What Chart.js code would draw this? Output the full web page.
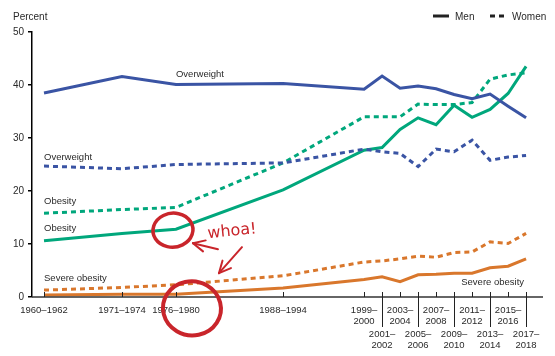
<!DOCTYPE html>
<html><head><meta charset="utf-8">
<script src="https://cdn.jsdelivr.net/npm/chart.js@4/dist/chart.umd.min.js"></script>
<style>html,body{margin:0;padding:0;background:#fff;}#wrap{width:555px;height:356px;position:relative}</style>
</head><body><div id="wrap"><canvas id="c" width="555" height="356"></canvas></div>
<script>
const periods = ['1960–1962','1971–1974','1976–1980','1988–1994','1999–2000','2001–2002','2003–2004','2005–2006','2007–2008','2009–2010','2011–2012','2013–2014','2015–2016','2017–2018'];
const periodPos = [0,4.33,7.33,13.28,17.78,18.78,19.78,20.78,21.78,22.78,23.78,24.78,25.78,26.78];
const menOverweight   = [38.5,41.6,40.1,40.3,39.2,41.7,39.4,39.8,39.3,38.2,37.4,38.3,36.0,33.8];
const menObesity      = [10.6,12.0,12.8,20.2,27.7,28.2,31.6,33.8,32.5,36.2,33.9,35.4,38.4,43.5];
const menSevere       = [0.4,0.5,0.5,1.7,3.3,3.8,2.9,4.2,4.3,4.5,4.5,5.5,5.8,7.2];
const womenOverweight = [24.7,24.2,25.0,25.3,27.9,27.4,27.1,24.6,27.9,27.4,29.6,25.8,26.4,26.7];
const womenObesity    = [15.8,16.5,16.9,25.3,34.0,34.0,34.0,36.4,36.3,36.3,36.7,41.1,41.9,42.3];
const womenSevere     = [1.3,1.8,2.3,4.0,6.6,6.8,7.2,7.7,7.5,8.4,8.5,10.4,10.1,12.0];
const yTicks = [0,10,20,30,40,50];

const BLUE = '#3a54a4', GREEN = '#00a77c', ORANGE = '#d9772c', RED = '#c9252b', TXT = '#2a2a2a';
const FAM = '"Liberation Sans", Arial, sans-serif';
const DASH = [5,4];
const mk = arr => arr.map((v,i)=>({x: periodPos[i], y: v}));

const datasets = [
  {label:'Men overweight', data: mk(menOverweight), borderColor: BLUE},
  {label:'Women overweight', data: mk(womenOverweight), borderColor: BLUE, borderDash: DASH},
  {label:'Men obesity', data: mk(menObesity), borderColor: GREEN},
  {label:'Women obesity', data: mk(womenObesity), borderColor: GREEN, borderDash: DASH},
  {label:'Men severe obesity', data: mk(menSevere), borderColor: ORANGE},
  {label:'Women severe obesity', data: mk(womenSevere), borderColor: ORANGE, borderDash: DASH}
];

const overlay = {
  id:'overlay',
  afterDraw(chart){
    const ctx = chart.ctx, xs = chart.scales.x, ys = chart.scales.y, a = chart.chartArea;
    const px = i => xs.getPixelForValue(periodPos[i]);
    ctx.save();
    // x axis line
    ctx.strokeStyle = '#333'; ctx.lineWidth = 1.5;
    ctx.beginPath(); ctx.moveTo(a.left, a.bottom); ctx.lineTo(a.right, a.bottom); ctx.stroke();
    // ticks + leaders
    ctx.lineWidth = 1; ctx.strokeStyle = '#222';
    periods.forEach((p,i)=>{
      const x = Math.round(px(i))+0.5;
      ctx.beginPath(); ctx.moveTo(x, a.bottom-5); ctx.lineTo(x, a.bottom); ctx.stroke();
      if (i>=4 && (i-4)%2===1){
        ctx.beginPath(); ctx.moveTo(x, a.bottom); ctx.lineTo(x, a.bottom+30); ctx.stroke();
      }
    });
    // x labels
    ctx.fillStyle = TXT; ctx.font = '9.5px '+FAM; ctx.textAlign = 'center'; ctx.textBaseline = 'alphabetic';
    periods.forEach((p,i)=>{
      const x = px(i);
      if (i<4){ ctx.fillText(p, x, a.bottom+16); }
      else {
        const parts = p.split('–');
        const base = ((i-4)%2===0) ? a.bottom+16 : a.bottom+40;
        ctx.fillText(parts[0]+'–', x, base);
        ctx.fillText(parts[1], x, base+11);
      }
    });
    // Percent
    ctx.textAlign = 'left';
    ctx.font = '10px '+FAM;
    ctx.fillText('Percent', 13, 20);
    // legend
    ctx.lineWidth = 3; ctx.strokeStyle = '#222';
    ctx.beginPath(); ctx.moveTo(433,16); ctx.lineTo(449,16); ctx.stroke();
    ctx.setLineDash(DASH);
    ctx.beginPath(); ctx.moveTo(490,16); ctx.lineTo(505,16); ctx.stroke();
    ctx.setLineDash([]);
    ctx.fillText('Men', 455, 20);
    ctx.fillText('Women', 512, 20);
    // series labels
    ctx.font = '9.5px '+FAM;
    ctx.fillText('Overweight', px(2), ys.getPixelForValue(menOverweight[2]) - 7.5);
    ctx.fillText('Overweight', px(0), ys.getPixelForValue(womenOverweight[0]) - 6.5);
    ctx.fillText('Obesity', px(0), ys.getPixelForValue(womenObesity[0]) - 9);
    ctx.fillText('Obesity', px(0), ys.getPixelForValue(menObesity[0]) - 10);
    ctx.fillText('Severe obesity', px(0), ys.getPixelForValue(womenSevere[0]) - 9);
    ctx.textAlign = 'right';
    ctx.fillText('Severe obesity', px(13) - 2, ys.getPixelForValue(0) - 12);
    // annotations
    const c1x = px(2) - 3, c1y = ys.getPixelForValue(menObesity[2]) + 1;
    const c2x = px(2) + 16, c2y = ys.getPixelForValue(menSevere[2]) + 14;
    ctx.strokeStyle = RED; ctx.fillStyle = RED; ctx.lineCap = 'round';
    ctx.lineWidth = 3.5;
    ctx.beginPath(); ctx.ellipse(c1x, c1y, 20, 17, -0.1, -1.2, Math.PI*2-0.9); ctx.stroke();
    ctx.lineWidth = 4;
    ctx.beginPath(); ctx.ellipse(c2x, c2y, 29, 27, 0.1, -1.9, Math.PI*2-1.6); ctx.stroke();
    // whoa!
    ctx.save();
    ctx.translate(c1x + 35, c1y + 8);
    ctx.rotate(-0.1);
    ctx.textAlign = 'left';
    ctx.font = '16px "DejaVu Sans", sans-serif';
    ctx.fillText('whoa!', 0, 0);
    ctx.restore();
    // arrows
    const arrow = (tx, ty, fx, fy, len) => {
      ctx.lineWidth = 2;
      ctx.beginPath(); ctx.moveTo(fx, fy); ctx.lineTo(tx, ty); ctx.stroke();
      const ang = Math.atan2(fy-ty, fx-tx);
      [0.45,-0.45].forEach(d=>{
        ctx.beginPath(); ctx.moveTo(tx, ty);
        ctx.lineTo(tx + len*Math.cos(ang+d), ty + len*Math.sin(ang+d)); ctx.stroke();
      });
    };
    arrow(c1x + 20, c1y + 13, c1x + 45, c1y + 19, 13);
    arrow(c1x + 46, c1y + 43, c1x + 69, c1y + 17, 13);
    ctx.restore();
  }
};

new Chart(document.getElementById('c').getContext('2d'), {
  type:'line',
  data:{datasets},
  options:{
    responsive:false, animation:false, devicePixelRatio:1,
    layout:{padding:{top:32,right:12,left:0,bottom:0}},
    plugins:{legend:{display:false}, tooltip:{enabled:false}},
    elements:{point:{radius:0}, line:{tension:0, borderWidth:3, fill:false, borderCapStyle:'butt'}},
    scales:{
      x:{type:'linear', min:-0.667, max:27.72, grid:{display:false}, border:{display:false}, ticks:{display:false},
         afterFit(s){ s.height = 59; }},
      y:{min:0, max:50,
         afterBuildTicks(s){ s.ticks = yTicks.map(v=>({value:v})); },
         ticks:{font:{size:10, family:FAM}, color:TXT, padding:4},
         grid:{drawOnChartArea:false, tickLength:4, color:'#000', lineWidth:1.5},
         border:{color:'#000', width:1.5},
         afterFit(s){ s.width = 32; }}
    }
  },
  plugins:[overlay]
});
</script>
</body></html>
